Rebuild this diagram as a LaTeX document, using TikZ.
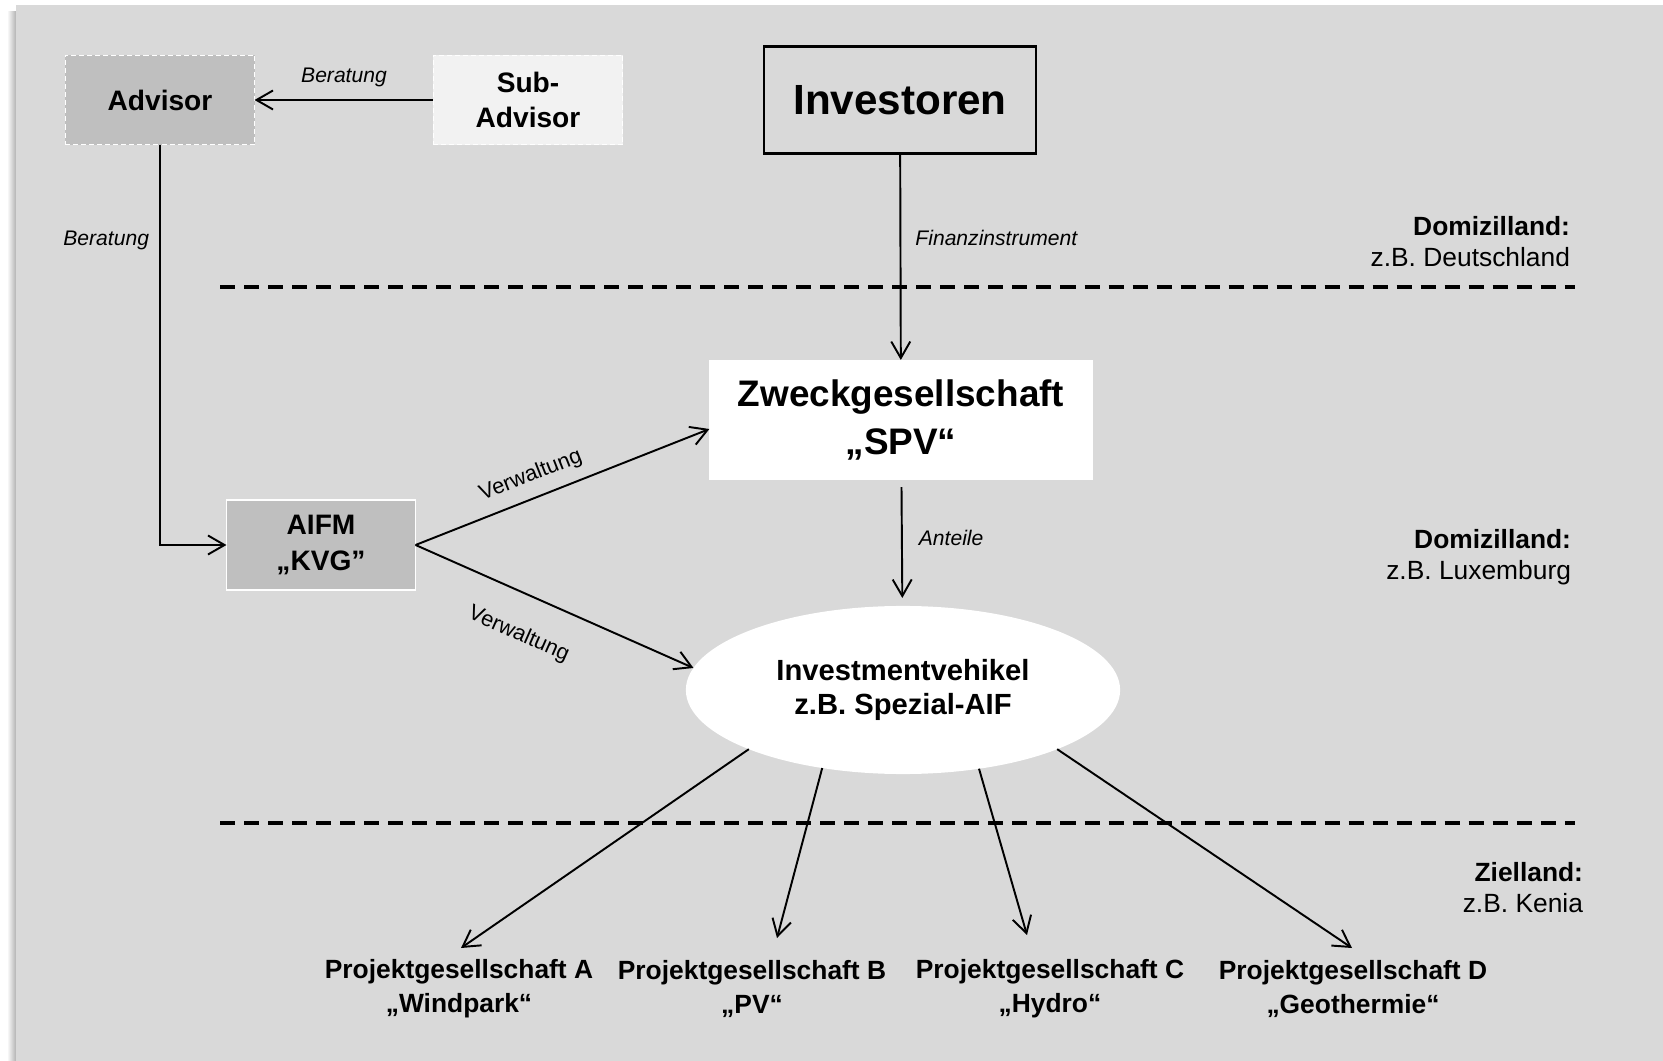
\documentclass[tikz,border=0pt]{standalone}
\usepackage{fontspec}
\setmainfont{Liberation Sans}
\usetikzlibrary{shapes.geometric,arrows.meta}
\definecolor{bggray}{HTML}{D9D9D9}
\definecolor{boxgray}{HTML}{BFBFBF}
\definecolor{lightbox}{HTML}{F2F2F2}

\begin{document}
\begin{tikzpicture}[x=0.01cm,y=-0.01cm,
  every node/.style={inner sep=0pt,outer sep=0pt},
  advbox/.style={rectangle,fill=#1,draw=white,line width=0.5pt,dash pattern=on 0.5mm off 0.3mm,
    minimum width=1.89cm,minimum height=0.89cm,align=center,font=\fontsize{8}{10}\selectfont\bfseries},
  arr/.style={line width=0.55pt,-{Straight Barb[length=1.65mm,width=1.9mm]}},
  flowlbl/.style={font=\fontsize{6}{7}\selectfont\itshape},
  grenze/.style={line width=0.95pt,dash pattern=on 1.5mm off 0.9mm},
  land/.style={anchor=east,align=right,font=\fontsize{7.5}{8.8}\selectfont},
  proj/.style={align=center,font=\fontsize{7.5}{9.7}\selectfont\bfseries}]
\useasboundingbox (0,0) rectangle (1663,1061);
\shade[left color=white,right color=black!30] (7,12) rectangle (16,1061);
\fill[bggray] (16,5) rectangle (1663,1061);

\node[advbox=boxgray] (adv) at (160,100) {Advisor};
\node[advbox=lightbox] (sub) at (528,100) {Sub-\\Advisor};
\node[draw=black,line width=0.6pt,minimum width=2.72cm,minimum height=1.07cm,
  font=\fontsize{12}{14}\selectfont\bfseries] (inv) at (900,100) {Investoren};
\node[fill=white,minimum width=3.83cm,minimum height=1.2cm,align=center,
  font=\fontsize{10.5}{13.4}\selectfont\bfseries] (spv) at (901,420) {Zweckgesellschaft\\„SPV“};
\node[fill=boxgray,draw=white,line width=0.5pt,minimum width=1.89cm,minimum height=0.9cm,align=center,
  font=\fontsize{8}{10}\selectfont\bfseries] (kvg) at (321,545) {AIFM\\„KVG”};
\node[ellipse,fill=white,minimum width=4.34cm,minimum height=1.68cm,align=center,
  font=\fontsize{8.3}{9.7}\selectfont\bfseries] (veh) at (903,690) {Investmentvehikel\\z.B. Spezial-AIF};

\node[proj] (pA) at (459,989) {Projektgesellschaft A\\„Windpark“};
\node[proj] (pB) at (752,989) {Projektgesellschaft B\\„PV“};
\node[proj] (pC) at (1050,989) {Projektgesellschaft C\\„Hydro“};
\node[proj] (pD) at (1353,989) {Projektgesellschaft D\\„Geothermie“};
\coordinate (tipA) at (461,948);
\coordinate (tipB) at (777,938);
\coordinate (tipC) at (1027,935);
\coordinate (tipD) at (1352,948);

\node[land] (dom1) at (1570,242) {\textbf{Domizilland:}\\z.B. Deutschland};
\node[land] (dom2) at (1571,557) {\textbf{Domizilland:}\\z.B. Luxemburg};
\node[land] (ziel) at (1583,888) {\textbf{Zielland:}\\z.B. Kenia};

\draw[grenze] (220,287) -- (1575,287);
\draw[grenze] (220,823) -- (1575,823);

\draw[arr] (sub) -- node[flowlbl,above=1.3mm] {Beratung} (adv);
\draw[arr] (adv) |- node[flowlbl,pos=0.12,left=1.1mm] {Beratung} (kvg);
\draw[arr] (inv) -- node[flowlbl,pos=0.41,right=1.5mm] {Finanzinstrument} (spv);
\draw[arr,shorten <=0.7mm,shorten >=0.8mm] (spv) -- node[flowlbl,pos=0.46,right=1.7mm] {Anteile} (veh);
\draw[arr] (kvg.east) -- node[pos=0.42,sloped,above=1.2mm,font=\fontsize{6.2}{7}\selectfont] {Verwaltung} ([yshift=-0.9mm]spv.west);
\draw[arr] (kvg.east) -- node[pos=0.43,sloped,below=3mm,font=\fontsize{6.2}{7}\selectfont] {Verwaltung} (veh.174);

\draw[arr] (veh.201) -- (tipA);
\draw[arr] (veh.224) -- (tipB);
\draw[arr] (veh.314) -- (tipC);
\draw[arr] (veh.339) -- (tipD);
\end{tikzpicture}
\end{document}
